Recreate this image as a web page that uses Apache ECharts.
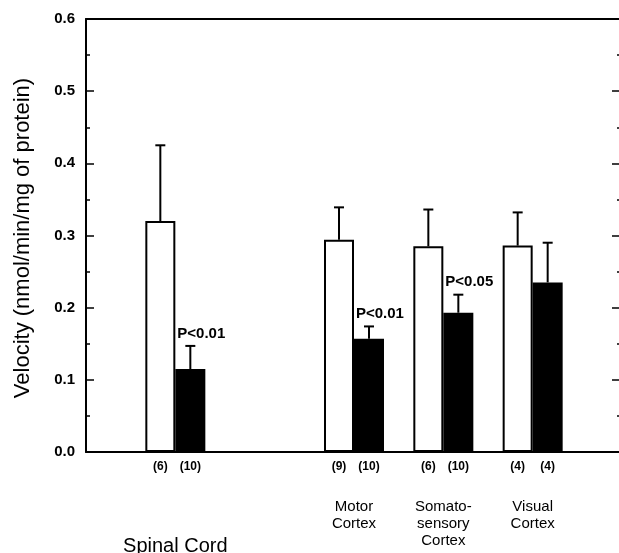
<!DOCTYPE html>
<html><head><meta charset="utf-8">
<script src="https://cdn.jsdelivr.net/npm/echarts@6/dist/echarts.min.js"></script>
<style>html,body{margin:0;padding:0;background:#fff}#c{width:619px;height:553px}</style>
</head><body><div id="c"></div>
<script>
// Category slots along the x axis (empty slots are gaps in the original layout)
const slots = ['', 'Spinal Cord', '', 'Motor\nCortex', 'Somato-\nsensory\nCortex', 'Visual\nCortex', ''];
const controlMean = [null, 0.320, null, 0.294, 0.285, 0.286, null];
const controlSEM  = [null, 0.105, null, 0.045, 0.051, 0.046, null];
const treatedMean = [null, 0.115, null, 0.157, 0.193, 0.235, null];
const treatedSEM  = [null, 0.032, null, 0.017, 0.025, 0.055, null];
const nControl = ['', '(6)', '', '(9)', '(6)', '(4)', ''];
const nTreated = ['', '(10)', '', '(10)', '(10)', '(4)', ''];
const pLabels  = ['', 'P<0.01', '', 'P<0.01', 'P<0.05', '', ''];
const yTitle = 'Velocity (nmol/min/mg of protein)';

const FONT = '"Liberation Sans", Arial, Helvetica, sans-serif';
const BAR_W = 30;

const errData = [], errText = [];
slots.forEach((s, i) => {
  if (controlMean[i] != null) { errData.push([i, controlMean[i], controlMean[i] + controlSEM[i], -1]); errText.push(''); }
  if (treatedMean[i] != null) { errData.push([i, treatedMean[i], treatedMean[i] + treatedSEM[i], 1]); errText.push(pLabels[i]); }
});

function renderErr(params, api) {
  const i = api.value(0), m = api.value(1), t = api.value(2), side = api.value(3);
  const b = api.coord([i, m]), top = api.coord([i, t]);
  const x = b[0] + side * BAR_W / 2;
  const children = [
    {type: 'line', shape: {x1: x, y1: b[1], x2: x, y2: top[1]}, style: {stroke: '#000', lineWidth: 2}},
    {type: 'line', shape: {x1: x - 5, y1: top[1], x2: x + 5, y2: top[1]}, style: {stroke: '#000', lineWidth: 2}}
  ];
  const lab = errText[params.dataIndex];
  if (lab) {
    children.push({type: 'text', style: {text: lab, x: b[0] + 2, y: top[1] - 5, align: 'left', verticalAlign: 'bottom',
      fontSize: 15, fontWeight: 'bold', fontFamily: FONT, fill: '#000'}});
  }
  return {type: 'group', children};
}

const chart = echarts.init(document.getElementById('c'), null, {renderer: 'canvas'});
chart.setOption({
  animation: false,
  backgroundColor: '#fff',
  grid: {left: 86, right: -3, top: 19, bottom: 101, containLabel: false, outerBoundsMode: 'none'},
  xAxis: [
    {type: 'category', data: slots, boundaryGap: false, position: 'bottom',
     axisLine: {lineStyle: {color: '#000', width: 2}}, axisTick: {show: false},
     axisLabel: {interval: 0, margin: 9, color: '#000',
       formatter: (v, i) => nControl[i] ? '{a|' + nControl[i] + '}{b|' + nTreated[i] + '}' : '',
       rich: {a: {width: 30, align: 'center', fontSize: 12, fontWeight: 'bold', fontFamily: FONT, color: '#000'},
              b: {width: 30, align: 'center', fontSize: 12, fontWeight: 'bold', fontFamily: FONT, color: '#000'}}},
     splitLine: {show: false}},
    {type: 'category', data: slots, boundaryGap: false, position: 'bottom',
     axisLine: {show: false}, axisTick: {show: false},
     axisLabel: {interval: 0, margin: 46, color: '#000',
       formatter: (v, i) => {
         if (!v) return '';
         if (i === 1) return '{s|' + v + '}';
         return v.split('\n').map(t => '{c|' + t + '}').join('\n');
       },
       rich: {s: {fontSize: 20, fontFamily: FONT, color: '#000', padding: [38, 0, 0, 0]},
              c: {fontSize: 15, lineHeight: 17, fontFamily: FONT, color: '#000'}}},
     splitLine: {show: false}},
    {type: 'category', data: slots, boundaryGap: false, position: 'top',
     axisLine: {lineStyle: {color: '#000', width: 2}}, axisTick: {show: false}, axisLabel: {show: false}, splitLine: {show: false}}
  ],
  yAxis: [
    {type: 'value', min: 0, max: 0.6, interval: 0.1, position: 'left',
     axisLine: {show: true, lineStyle: {color: '#000', width: 2}},
     axisTick: {show: true, inside: true, length: 8, lineStyle: {color: '#000', width: 1.5}},
     minorTick: {show: true, splitNumber: 2, length: 4, lineStyle: {color: '#000', width: 1.5}},
     axisLabel: {formatter: v => v.toFixed(1), fontSize: 15, fontWeight: 'bold', fontFamily: FONT, color: '#000', margin: 11},
     splitLine: {show: false}},
    {type: 'value', min: 0, max: 0.6, interval: 0.1, position: 'right',
     axisLine: {show: false},
     axisTick: {show: true, inside: true, length: 10, lineStyle: {color: '#000', width: 1.5}},
     minorTick: {show: true, splitNumber: 2, length: 5, lineStyle: {color: '#000', width: 1.5}},
     axisLabel: {show: false}, splitLine: {show: false}}
  ],
  graphic: [{type: 'text', x: 23, y: 238, rotation: Math.PI / 2,
    style: {text: yTitle, align: 'center', verticalAlign: 'middle', fontSize: 22, fontFamily: FONT, fill: '#000'}}],
  series: [
    {name: 'Control', type: 'bar', data: controlMean, barWidth: BAR_W, barGap: '0%',
     itemStyle: {color: '#fff', borderColor: '#000', borderWidth: 2}},
    {name: 'Treated', type: 'bar', data: treatedMean, barWidth: BAR_W, barGap: '0%',
     itemStyle: {color: '#000', borderColor: '#000', borderWidth: 0}},
    {name: 'err', type: 'custom', data: errData, renderItem: renderErr, z: 5,
     encode: {x: 0, y: [1, 2]}}
  ]
});
</script></body></html>
